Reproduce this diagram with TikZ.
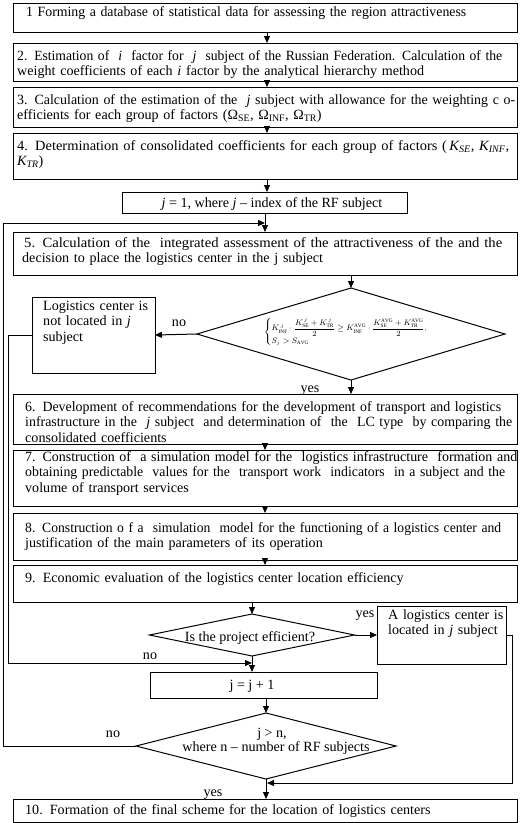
\documentclass[tikz,border=0pt]{standalone}
\usepackage{amsmath}
\usepackage{graphicx}
\usepackage{fontspec}
\setmainfont{Liberation Serif}
\usetikzlibrary{arrows.meta,fit,shapes.geometric}
\newcommand{\wl}[2]{\resizebox{#1pt}{\height}{#2}}
\begin{document}
\begin{tikzpicture}[x=1pt,y=-1pt,
  box/.style={draw, line width=1pt, inner sep=0pt, outer sep=0pt},
  dia/.style={draw, diamond, line width=1pt, inner sep=0pt, outer sep=0pt},
  txt/.style={inner sep=0pt, anchor=base west, align=left, text width=520pt, font=\fontsize{14.1}{15.8}\selectfont},
  lbl/.style={inner sep=0pt, anchor=base, font=\fontsize{14.1}{15.8}\selectfont},
  arr/.style={line width=1pt, -{Triangle[length=7pt,width=6pt]}}]
\useasboundingbox (0,0) rectangle (527,823);
% boxes
\node[box, fit={(13,3) (517,32)}] (b1) {};
\node[box, fit={(13,43) (517,81)}] (b2) {};
\node[box, fit={(13,87) (517,127)}] (b3) {};
\node[box, fit={(13,133) (517,179)}] (b4) {};
\node[box, fit={(122,192) (407,213)}] (j1) {};
\node[box, fit={(13,232) (517,275)}] (b5) {};
\node[dia, minimum width=308pt, minimum height=92pt] (d1) at (351,334) {};
\node[box, fit={(32,297) (155,373)}] (nl) {};
\node[box, fit={(13,394) (517,444)}] (b6) {};
\node[box, fit={(13,450) (517,506)}] (b7) {};
\node[box, fit={(13,513) (517,560)}] (b8) {};
\node[box, fit={(13,565) (517,602)}] (b9) {};
\node[dia, minimum width=205pt, minimum height=42pt] (d2) at (252,635) {};
\node[box, fit={(377,606) (506,664)}] (lc) {};
\node[box, fit={(150,672) (377,698)}] (jj) {};
\node[dia, minimum width=260pt, minimum height=66pt] (d3) at (266,746) {};
\node[box, fit={(13,799) (517,822)}] (b10) {};
% texts
\node[txt] (t1) at (26,16) {\wl{440}{1 Forming a database of statistical data for assessing the region attractiveness}};
\node[txt] (t2) at (17,60) {\wl{485}{2. Estimation of~ \textit{i}~ factor for~ \textit{j}~ subject of the Russian Federation. Calculation of the}\\ weight coefficients of each \textit{i} factor by the analytical hierarchy method};
\node[txt] (t3) at (17,104) {\wl{498}{3. Calculation of the estimation of the~ \textit{j} subject with allowance for the weighting c o-}\\efficients for each group of factors (Ω\textsubscript{SE}, Ω\textsubscript{INF}, Ω\textsubscript{TR})};
\node[txt] (t4) at (17,150) {\wl{492}{4. Determination of consolidated coefficients for each group of factors (\,\textit{K\textsubscript{SE}}, \textit{K\textsubscript{INF}},}\\ \textit{K\textsubscript{TR}})};
\node[lbl] (tj1) at (272,207) {\textit{j} = 1, where \textit{j} -- index of the RF subject};
\node[txt] (t5) at (24,247) {\wl{478}{5. Calculation of the~ integrated assessment of the attractiveness of the and the}\\[-0.5pt]\hspace*{-2pt}decision to place the logistics center in the j subject};
\node[txt, text width=115pt] (tnl) at (43,310) {Logistics center is\\ not located in \textit{j}\\ subject};
\node[inner sep=0pt, font=\fontsize{7.6}{9}\selectfont] (tf) at (346,332) {$\left\{\begin{array}{@{}l@{}}K^{\,j}_{\mathrm{INF}}\cdot\dfrac{K^{\,j}_{\mathrm{SE}}+K^{\,j}_{\mathrm{TR}}}{2}\ge K^{\mathrm{AVG}}_{\mathrm{INF}}\cdot\dfrac{K^{\mathrm{AVG}}_{\mathrm{SE}}+K^{\mathrm{AVG}}_{\mathrm{TR}}}{2},\\[2pt] S_j > S_{\mathrm{AVG}}\end{array}\right.$};
\node[lbl] (no1) at (179,326) {no};
\node[lbl] (yes1) at (310,392) {yes};
\node[txt] (t6) at (25,411) {\wl{476}{6. Development of recommendations for the development of transport and logistics}\\ \wl{487}{infrastructure in the~ \textit{j} subject~ and determination of~ the~ LC type~ by comparing the}\\ consolidated coefficients};
\node[txt] (t7) at (25,461) {\wl{492}{7. Construction of~ a simulation model for the~ logistics infrastructure~ formation and}\\ \wl{480}{obtaining predictable~ values for the~ transport work~ indicators~ in a subject and the}\\ volume of transport services};
\node[txt] (t8) at (25,532) {\wl{476}{8. Construction o f a~ simulation~ model for the functioning of a logistics center and}\\ justification of the main parameters of its operation};
\node[txt] (t9) at (25,582) {9. Economic evaluation of the logistics center location efficiency};
\node[lbl] (td2) at (250,641) {Is the project efficient?};
\node[lbl] (yes2) at (365,617) {yes};
\node[txt, text width=125pt] (tlc) at (388,619) {A logistics center is\\ located in \textit{j} subject};
\node[lbl] (no2) at (150,659) {no};
\node[lbl] (tjj) at (252,689) {j = j + 1};
\node[lbl] (td3a) at (272,737) {j > n,};
\node[lbl] (td3b) at (276,751) {where n -- number of RF subjects};
\node[lbl] (no3) at (113,737) {no};
\node[lbl] (yes3) at (213,796) {yes};
\node[txt] (t10) at (25,814) {10. Formation of the final scheme for the location of logistics centers};
% connectors
\coordinate (ax) at (267,0);
\coordinate (bx) at (265,0);
\draw[arr] (b1.south -| ax) -- (b2.north -| ax);
\draw[arr] (b2.south -| ax) -- (b3.north -| ax);
\draw[arr] (b3.south -| ax) -- (b4.north -| ax);
\draw[arr] (b4.south -| ax) -- (j1.north -| ax);
\draw[arr] (j1.south -| bx) -- (b5.north -| bx);
\draw[arr] (b5.south -| d1.north) -- (d1.north);
\draw[arr] (d1.west) -- (nl.east);
\draw[arr] (d1.south) -- (b6.north -| d1.south);
\draw[arr] (b6.south -| bx) -- (b7.north -| bx);
\draw[arr] (b7.south -| bx) -- (b8.north -| bx);
\draw[arr] (b8.south -| bx) -- (b9.north -| bx);
\draw[arr] (b9.south -| d2.north) -- (d2.north);
\draw[arr] (d2.east) -- (lc.west);
\draw[arr] (d2.south) -- (jj.north -| d2.south);
\draw[arr] (jj.south -| d3.north) -- (d3.north);
\draw[arr] (d3.south) -- (b10.north -| d3.south);
% loops
\coordinate (m5) at (265,223);
\coordinate (lx) at (3,746);
\draw[arr] (d3.west) -- (lx) |- (m5);
\coordinate (m2) at (252,663);
\coordinate (nx) at (8,335);
\draw[arr] (nl.west) -- (nx) |- (m2);
\coordinate (m3) at (267,783);
\coordinate (rx) at (512,635);
\draw[arr] (lc.east) -- (rx) |- (m3);
\end{tikzpicture}
\end{document}
